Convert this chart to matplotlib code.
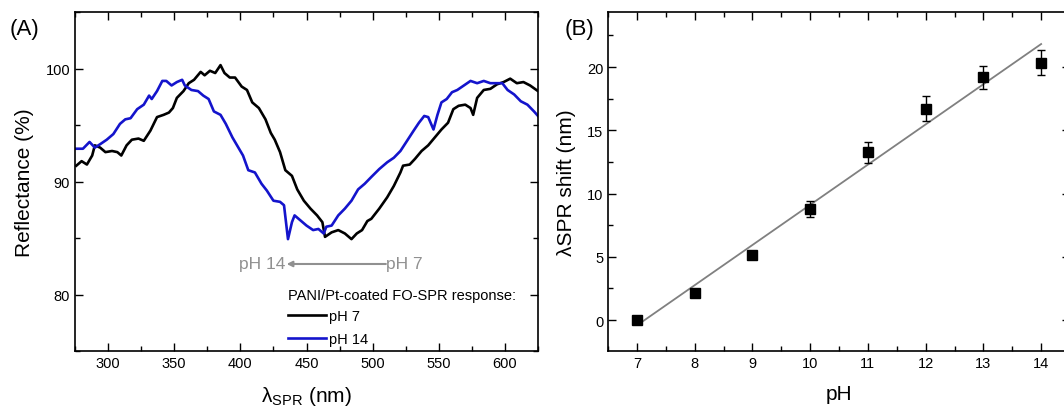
import numpy as np
import matplotlib.pyplot as plt
from matplotlib.ticker import MultipleLocator

plt.rcParams['font.family'] = ['Liberation Sans', 'DejaVu Sans']
plt.rcParams['mathtext.fontset'] = 'custom'
plt.rcParams['mathtext.rm'] = 'Liberation Sans'

# (A) reflectance spectra
wl_ph7 = [276, 280, 284, 288, 290, 294, 298, 303, 307, 310, 314, 318, 323, 327, 332,
          337, 342, 346, 349, 352, 357, 361, 365, 370, 373, 377, 381, 385, 388, 392,
          396, 401, 405, 409, 414, 419, 423, 426, 430, 434, 439, 443, 448, 453, 458,
          462, 464, 469, 474, 479, 484, 488, 492, 496, 499, 505, 511, 516, 521, 523,
          528, 532, 537, 542, 547, 552, 557, 561, 565, 570, 574, 576, 579, 584, 589,
          594, 599, 604, 609, 614, 619, 625]
refl_ph7 = [91.4, 91.8, 91.5, 92.3, 93.2, 93.0, 92.6, 92.7, 92.6, 92.3, 93.2, 93.7, 93.8, 93.6, 94.5,
            95.7, 95.9, 96.1, 96.5, 97.4, 98.0, 98.7, 99.0, 99.7, 99.4, 99.8, 99.6, 100.3, 99.6, 99.2,
            99.2, 98.4, 98.1, 97.0, 96.5, 95.5, 94.3, 93.7, 92.6, 91.0, 90.5, 89.3, 88.3, 87.6, 87.0,
            86.4, 85.1, 85.5, 85.7, 85.4, 84.9, 85.4, 85.7, 86.5, 86.7, 87.6, 88.6, 89.6, 90.8, 91.4,
            91.5, 92.0, 92.7, 93.2, 93.9, 94.6, 95.2, 96.4, 96.7, 96.8, 96.5, 95.9, 97.4, 98.1, 98.2,
            98.6, 98.8, 99.1, 98.7, 98.8, 98.5, 98.0]

wl_ph14 = [276, 281, 286, 290, 294, 299, 304, 309, 313, 317, 322, 327, 331, 333, 337,
           341, 344, 348, 352, 356, 358, 363, 368, 372, 376, 380, 385, 389, 394, 399,
           402, 406, 411, 416, 420, 425, 430, 433, 436, 439, 441, 445, 450, 455, 459,
           463, 465, 469, 474, 479, 484, 489, 494, 499, 505, 511, 516, 521, 526, 531,
           535, 539, 542, 546, 549, 552, 556, 560, 564, 569, 574, 579, 584, 589, 594,
           598, 602, 607, 612, 617, 622, 625]
refl_ph14 = [92.9, 92.9, 93.5, 93.0, 93.3, 93.7, 94.2, 95.1, 95.5, 95.6, 96.4, 96.8, 97.6, 97.3, 98.0,
             98.9, 98.9, 98.5, 98.8, 99.0, 98.5, 98.1, 98.0, 97.6, 97.3, 96.2, 95.9, 95.1, 93.9, 92.9,
             92.3, 91.0, 90.8, 89.8, 89.2, 88.3, 88.2, 87.9, 84.9, 86.4, 87.0, 86.6, 86.1, 85.7, 85.8,
             85.4, 86.0, 86.1, 87.0, 87.6, 88.3, 89.3, 89.8, 90.4, 91.1, 91.7, 92.1, 92.7, 93.6, 94.5,
             95.2, 95.8, 95.7, 94.6, 95.9, 97.0, 97.3, 97.9, 98.1, 98.5, 98.9, 98.7, 98.9, 98.7, 98.7,
             98.7, 98.1, 97.7, 97.1, 96.8, 96.2, 95.8]

# (B) SPR shift vs pH
ph = [7, 8, 9, 10, 11, 12, 13, 14]
shift = [0.0, 2.15, 5.1, 8.8, 13.25, 16.7, 19.2, 20.35]
shift_err = [0.15, 0.15, 0.3, 0.63, 0.85, 1.0, 0.92, 1.0]

fig = plt.figure(figsize=(10.64, 4.14), dpi=100)
W, H = 1064, 414

def style(ax):
    ax.tick_params(which='both', direction='in', top=True, right=True,
                   labelsize=10.5, width=1.0, colors='black')
    ax.tick_params(which='major', length=6)
    ax.tick_params(which='minor', length=3.5)
    for s in ax.spines.values():
        s.set_linewidth(1.2)

# panel A
axA = fig.add_axes([75 / W, 1 - 352 / H, 463 / W, 339 / H])
axA.plot(wl_ph7, refl_ph7, color='black', lw=1.9, label='pH 7')
axA.plot(wl_ph14, refl_ph14, color='#1414cc', lw=1.9, label='pH 14')
axA.set_xlim(275, 625)
axA.set_ylim(75, 105)
axA.xaxis.set_major_locator(MultipleLocator(50))
axA.xaxis.set_minor_locator(MultipleLocator(25))
axA.yaxis.set_major_locator(MultipleLocator(10))
axA.yaxis.set_minor_locator(MultipleLocator(5))
style(axA)
axA.set_ylabel('Reflectance (%)', fontsize=15, labelpad=8)
axA.set_xlabel('\u03bb$_{\\mathrm{SPR}}$ (nm)', fontsize=15, labelpad=10)

axA.annotate('', xy=(435, 82.7), xytext=(510, 82.7),
             arrowprops=dict(arrowstyle='-|>', color='#909090', lw=1.5, mutation_scale=8,
                             shrinkA=0, shrinkB=0))
axA.text(434, 82.7, 'pH 14', color='#909090', fontsize=12.5, ha='right', va='center')
axA.text(510, 82.7, 'pH 7', color='#909090', fontsize=12.5, ha='left', va='center')

leg = axA.legend(title='PANI/Pt-coated FO-SPR response:', loc='upper left',
                 bbox_to_anchor=(0.46, 0.185), frameon=False, fontsize=10.5,
                 title_fontsize=10.5, handlelength=2.6, handletextpad=0.2,
                 labelspacing=0.6, borderaxespad=0, borderpad=0)
leg._legend_box.align = 'left'
leg._legend_box.sep = 5

fig.text(10 / W, 1 - 30 / H, '(A)', fontsize=16, va='center', ha='left')

# panel B
axB = fig.add_axes([608 / W, 1 - 352 / H, 462 / W, 339 / H])
axB.errorbar(ph, shift, yerr=shift_err, fmt='s', color='black', ms=6.5,
             capsize=3, elinewidth=1.0, capthick=1.0, zorder=3)
slope, icpt = np.polyfit(ph, shift, 1)
xfit = np.array([7.05, 14.0])
axB.plot(xfit, slope * xfit + icpt, color='#808080', lw=1.3, zorder=2)
axB.set_xlim(6.5, 14.5)
axB.set_ylim(-2.45, 24.35)
axB.xaxis.set_major_locator(MultipleLocator(1))
axB.xaxis.set_minor_locator(MultipleLocator(0.5))
axB.yaxis.set_major_locator(MultipleLocator(5))
axB.yaxis.set_minor_locator(MultipleLocator(2.5))
style(axB)
axB.set_ylabel('\u03bbSPR shift (nm)', fontsize=15, labelpad=8)
axB.set_xlabel('pH', fontsize=15, labelpad=10)

fig.text(565 / W, 1 - 30 / H, '(B)', fontsize=16, va='center', ha='left')

fig.savefig('out.png', dpi=100)
